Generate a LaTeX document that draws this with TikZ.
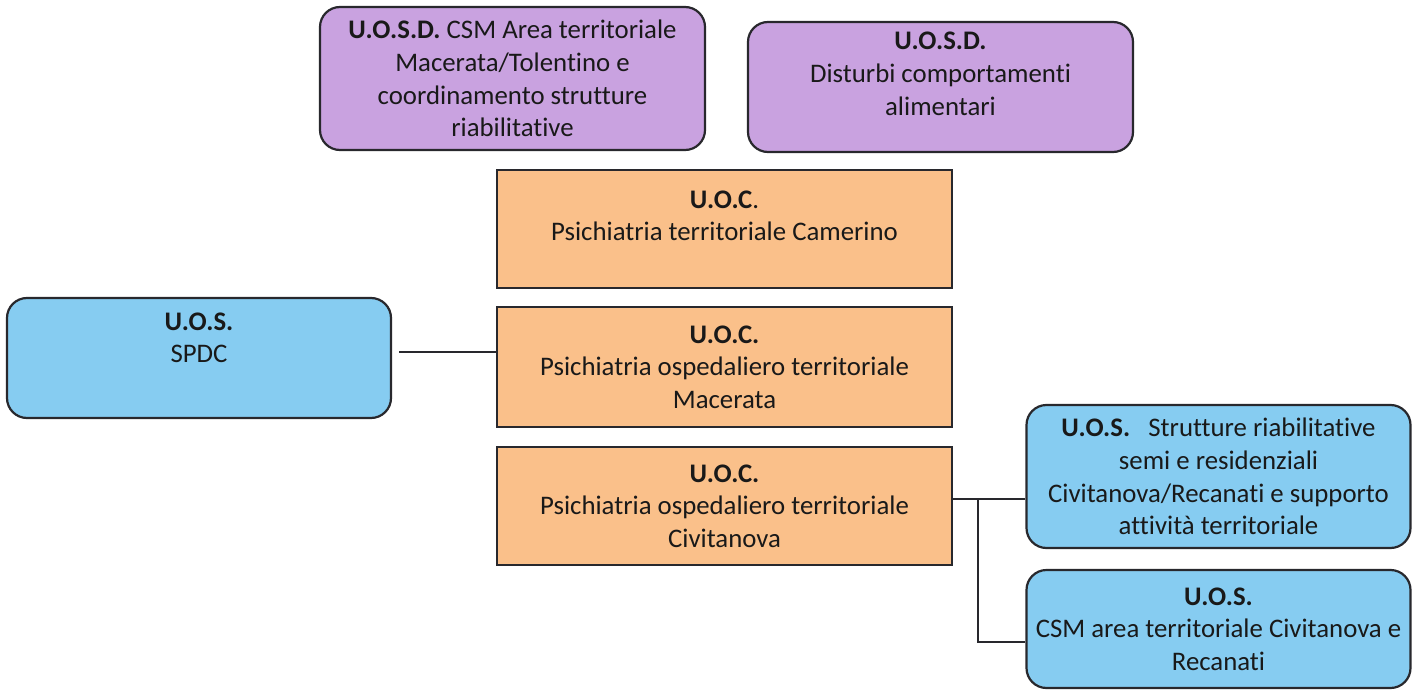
\documentclass[tikz,border=0pt]{standalone}
\usepackage{fontspec}
\setmainfont{Carlito}[Ligatures=NoCommon]
\usepackage{tikz}
\usepackage{xcolor}
\usetikzlibrary{positioning,calc}

\definecolor{uosdfill}{RGB}{201,162,224}
\definecolor{uocfill}{RGB}{250,192,138}
\definecolor{uosfill}{RGB}{134,204,241}
\definecolor{edge}{RGB}{40,40,45}

\tikzset{
    unit/.style={draw=edge, line width=1.1pt, align=center, text=black!90,
        font=\fontsize{13.4}{16.3}\selectfont, inner sep=2pt},
    uosd/.style={unit, fill=uosdfill, rounded corners=10pt, minimum width=192.5pt},
    uoc/.style={unit, fill=uocfill, minimum width=227.5pt},
    uos/.style={unit, fill=uosfill, rounded corners=10pt, minimum width=192pt},
    link/.style={draw=edge, line width=0.9pt}
}

\begin{document}
\begin{tikzpicture}[x=0.5pt,y=-0.5pt]
    \useasboundingbox[fill=white] (0,0) rectangle (1419,690);

    % U.O.S.D. (purple, top row)
    \node[uosd, minimum height=71.5pt] (csmmc) at (512.5,78.5)
        {\textbf{U.O.S.D.} CSM Area territoriale\\Macerata/Tolentino e\\coordinamento strutture\\riabilitative};
    \node[uosd, minimum height=65pt] (dca) at (940.5,87)
        {\textbf{U.O.S.D.}\\Disturbi comportamenti\\alimentari\\[-3pt]\mbox{}};

    % U.O.C. (orange, middle column)
    \node[uoc, minimum height=59pt] (cam) at (724.5,229)
        {\textbf{U.O.C}.\\Psichiatria territoriale Camerino\\[-3pt]\mbox{}};
    \node[uoc, minimum height=60pt] (mac) at (724.5,367)
        {\textbf{U.O.C.}\\Psichiatria ospedaliero territoriale\\Macerata};
    \node[uoc, minimum height=59pt] (civ) at (724.5,506)
        {\textbf{U.O.C.}\\Psichiatria ospedaliero territoriale\\Civitanova};

    % U.O.S. (blue)
    \node[uos, minimum height=60pt] (spdc) at (199,358)
        {\textbf{U.O.S.}\\SPDC\\[4pt]\mbox{}};
    \node[uos, minimum height=71.5pt] (strutt) at (1218.5,476.5)
        {\textbf{U.O.S.}\ \ \ Strutture riabilitative\\semi e residenziali\\Civitanova/Recanati e supporto\\attività territoriale};
    \node[uos, minimum height=59pt] (csmcr) at (1218.5,629)
        {\textbf{U.O.S.}\\CSM area territoriale Civitanova e\\Recanati};

    % connectors
    \coordinate (split) at (978,499);
    \coordinate (splitlow) at (978,642);
    \draw[link, shorten <=3.5pt] ([yshift=3pt]spdc.east) -- ([yshift=3pt]spdc.east -| mac.west);
    \draw[link] (civ.east |- split) -- (split) -- (split -| strutt.west);
    \draw[link] (split) -- (splitlow) -- (splitlow -| csmcr.west);
\end{tikzpicture}
\end{document}
